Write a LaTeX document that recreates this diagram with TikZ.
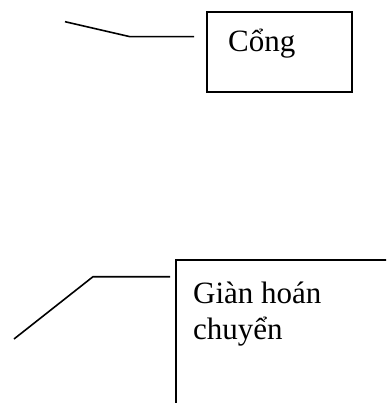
\documentclass[tikz,border=0pt]{standalone}
\usepackage{fontspec}
\setmainfont{Liberation Serif}
\begin{document}
\begin{tikzpicture}[x=1pt,y=-1pt,
  boxshape/.style={draw,line width=1.8pt,rectangle,inner sep=0pt},
  lbl/.style={inner sep=0pt,anchor=base west,font=\fontsize{31}{36}\selectfont,align=left},
  conn/.style={line width=1.6pt}]
\useasboundingbox (0,0) rectangle (386,403);
\clip (0,0) rectangle (386,403);
% top box
\node[boxshape,minimum width=145pt,minimum height=80pt] (cong) at (279.2,51.7) {};
\node[lbl] (congt) at (228,51.7) {Cổng};
\coordinate (c1) at (65,21.7);
\coordinate (c2) at (130,36.7);
\coordinate (c3) at (194,36.7);
\draw[conn] (c1) -- (c2) -- (c3);
% bottom box (extends beyond the page)
\node[boxshape,minimum width=240pt,minimum height=180pt] (gian) at (295.7,350) {};
\node[lbl] (giant) at (193,303) {Giàn hoán};
\node[lbl] (giant2) at (193,339) {chuyển};
\coordinate (g1) at (14,339);
\coordinate (g2) at (93,276.7);
\coordinate (g3) at (170,276.7);
\draw[conn] (g1) -- (g2) -- (g3);
\end{tikzpicture}
\end{document}
